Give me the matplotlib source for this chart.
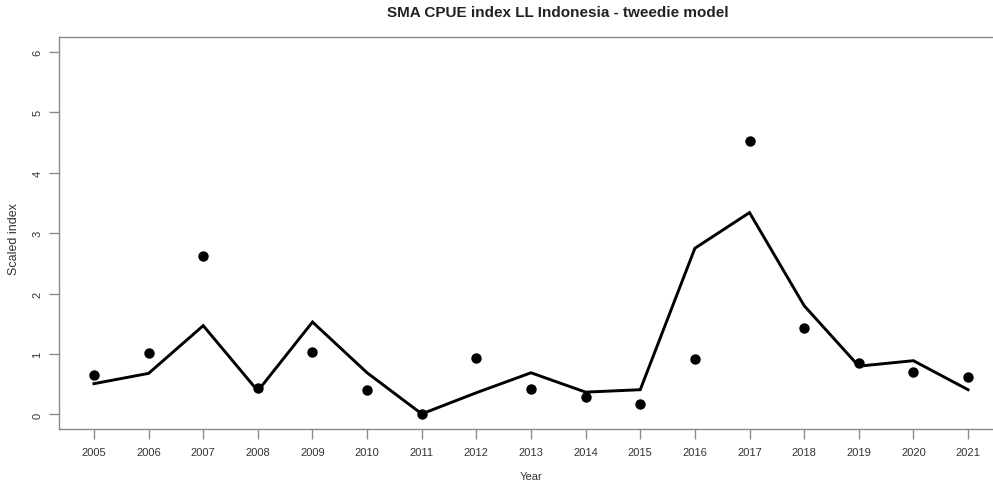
import matplotlib
matplotlib.use("Agg")
import matplotlib.pyplot as plt

years = list(range(2005, 2022))
observed = [0.66, 1.01, 2.63, 0.44, 1.03, 0.40, 0.00, 0.93, 0.42, 0.29,
            0.18, 0.91, 4.52, 1.43, 0.86, 0.70, 0.62]
predicted = [0.51, 0.68, 1.47, 0.39, 1.53, 0.69, 0.01, 0.36, 0.69, 0.37,
             0.41, 2.75, 3.34, 1.80, 0.80, 0.89, 0.41]
y_ticks = [0, 1, 2, 3, 4, 5, 6]

title = "SMA CPUE index LL Indonesia - tweedie model"

plt.rcParams['font.family'] = ['Liberation Sans', 'DejaVu Sans']
axis_col = '#8a8a8a'
text_col = '#333333'

fig = plt.figure(figsize=(9.93, 4.85), dpi=100)
W, H = 993, 485
left, right, top, bottom = 59, 1003, 38.3, 430
ax = fig.add_axes([left / W, (H - bottom) / H, (right - left) / W, (bottom - top) / H])

ax.plot(years, predicted, color='black', lw=2.1, solid_joinstyle='miter', zorder=2)
ax.plot(years, observed, 'o', color='black', ms=7.5, mew=0, zorder=3)

ax.set_xlim(2005 - 0.64, 2021 + 0.64)
ax.set_ylim(-0.24, 6.24)
ax.set_xticks(years)
ax.set_xticklabels([str(y) for y in years])
ax.set_yticks(y_ticks)
ax.set_yticklabels([str(v) for v in y_ticks], rotation=90, va='center')

for s in ax.spines.values():
    s.set_color(axis_col)
    s.set_linewidth(1.0)
ax.spines['right'].set_visible(False)
ax.tick_params(axis='both', colors=axis_col, labelcolor=text_col, length=7,
               width=1.0, labelsize=8)
ax.tick_params(axis='x', pad=6)
ax.tick_params(axis='y', pad=5)

fig.text(531 / W, 1 - 477 / H, "Year", ha='center', va='center', fontsize=8, color=text_col)
fig.text(14 / W, 1 - 239 / H, "Scaled index", ha='center', va='center', rotation=90,
         fontsize=9, color=text_col)
fig.text(557.5 / W, 1 - 13 / H, title, ha='center', va='center', fontsize=11,
         fontweight='bold', color='#222222')

fig.savefig("out.png", dpi=100)
